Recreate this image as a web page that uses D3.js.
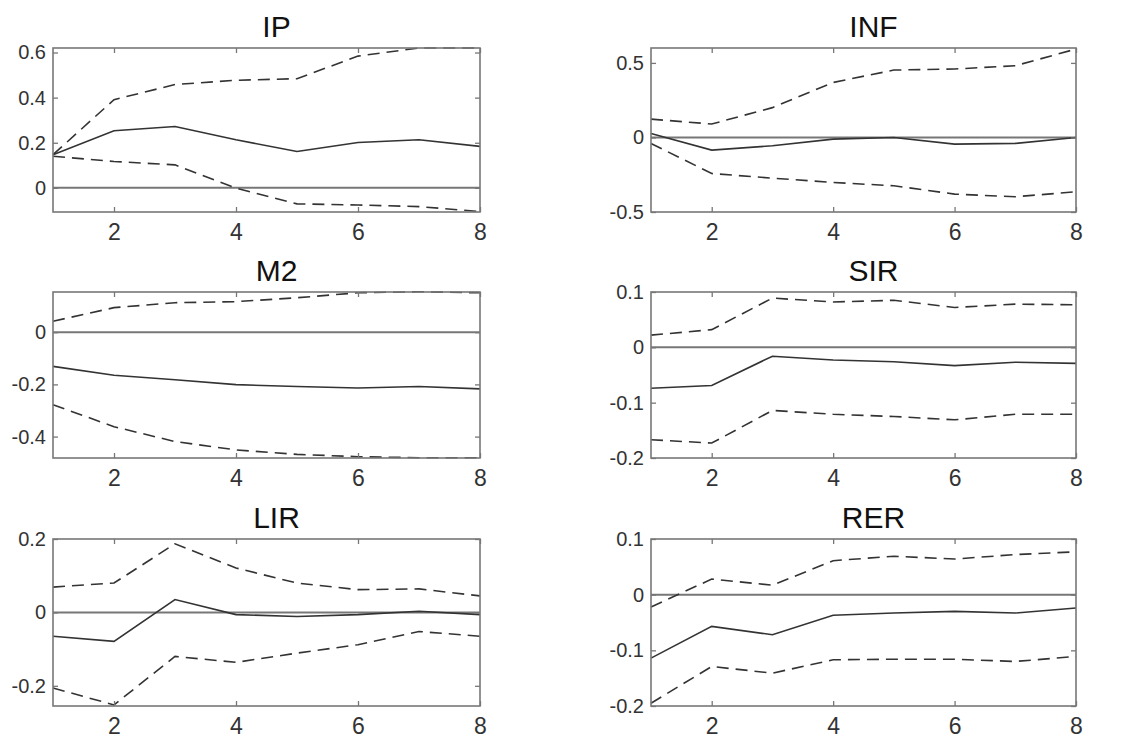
<!DOCTYPE html>
<html>
<head>
<meta charset="utf-8">
<script src="https://cdn.jsdelivr.net/npm/d3@7"></script>
<style>
  body { margin: 0; background: #fff; }
  text { font-family: "Liberation Sans", Arial, Helvetica, sans-serif; }
</style>
</head>
<body>
<script>
var width = 1121,
    height = 740;

// horizon (steps)
const steps = [1, 2, 3, 4, 5, 6, 7, 8];
const xTicks = [2, 4, 6, 8];

const titles = ['IP', 'INF', 'M2', 'SIR', 'LIR', 'RER'];

// impulse responses + bands
const ipResp  = [0.147, 0.253, 0.272, 0.213, 0.161, 0.201, 0.213, 0.184];
const ipUpper = [0.147, 0.391, 0.458, 0.477, 0.484, 0.584, 0.620, 0.620];
const ipLower = [0.140, 0.117, 0.102, -0.001, -0.071, -0.076, -0.083, -0.105];

const infResp  = [0.027, -0.085, -0.056, -0.011, 0.000, -0.045, -0.040, 0.000];
const infUpper = [0.123, 0.090, 0.200, 0.369, 0.452, 0.459, 0.481, 0.593];
const infLower = [-0.040, -0.242, -0.273, -0.302, -0.324, -0.380, -0.398, -0.364];

const m2Resp  = [-0.131, -0.165, -0.182, -0.201, -0.208, -0.214, -0.208, -0.217];
const m2Upper = [0.042, 0.094, 0.113, 0.117, 0.132, 0.151, 0.155, 0.151];
const m2Lower = [-0.278, -0.362, -0.419, -0.451, -0.468, -0.477, -0.481, -0.481];

const sirResp  = [-0.074, -0.069, -0.016, -0.023, -0.026, -0.033, -0.027, -0.029];
const sirUpper = [0.022, 0.032, 0.089, 0.082, 0.085, 0.072, 0.078, 0.077];
const sirLower = [-0.167, -0.173, -0.114, -0.121, -0.125, -0.131, -0.121, -0.121];

const lirResp  = [-0.065, -0.079, 0.035, -0.006, -0.011, -0.006, 0.003, -0.006];
const lirUpper = [0.069, 0.080, 0.187, 0.121, 0.080, 0.062, 0.064, 0.045];
const lirLower = [-0.206, -0.252, -0.120, -0.136, -0.111, -0.088, -0.052, -0.065];

const rerResp  = [-0.114, -0.057, -0.072, -0.037, -0.033, -0.030, -0.033, -0.024];
const rerUpper = [-0.022, 0.028, 0.017, 0.061, 0.069, 0.064, 0.072, 0.077];
const rerLower = [-0.195, -0.129, -0.141, -0.117, -0.116, -0.116, -0.120, -0.111];

const yDomains = [[-0.107, 0.62], [-0.5, 0.6], [-0.482, 0.154], [-0.2, 0.1], [-0.255, 0.2], [-0.2, 0.1]];
const yTicks = [[0, 0.2, 0.4, 0.6], [-0.5, 0, 0.5], [-0.4, -0.2, 0], [-0.2, -0.1, 0, 0.1], [-0.2, 0, 0.2], [-0.2, -0.1, 0, 0.1]];

const series = [
    [ipResp, ipUpper, ipLower],
    [infResp, infUpper, infLower],
    [m2Resp, m2Upper, m2Lower],
    [sirResp, sirUpper, sirLower],
    [lirResp, lirUpper, lirLower],
    [rerResp, rerUpper, rerLower]
];

// panel boxes
var cols = [[53, 480], [651, 1076]],
    rows = [[48, 212], [292, 458], [539, 706]];

var svg = d3.select('body')
    .append('svg')
    .attr('width', width)
    .attr('height', height);

svg.append('rect')
    .attr('width', width)
    .attr('height', height)
    .attr('fill', '#fff');

var fmt = d => d === 0 ? '0' : String(d);

titles.forEach((name, i) => {
    let c = cols[i % 2], r = rows[Math.floor(i / 2)];
    let x = d3.scaleLinear().domain([1, 8]).range(c);
    let y = d3.scaleLinear().domain(yDomains[i]).range([r[1], r[0]]);
    let g = svg.append('g');

    // zero line
    g.append('line')
        .attr('x1', x(1)).attr('x2', x(8))
        .attr('y1', y(0)).attr('y2', y(0))
        .attr('stroke', '#777')
        .attr('stroke-width', 2);

    let line = d3.line()
        .x((d, j) => x(steps[j]))
        .y(d => y(d));

    series[i].forEach((vals, k) => {
        g.append('path')
            .attr('d', line(vals))
            .attr('fill', 'none')
            .attr('stroke', '#333')
            .attr('stroke-width', 1.6)
            .attr('stroke-dasharray', k === 0 ? null : '12,7');
    });

    // axes, ticks inward
    let bottom = g.append('g')
        .attr('transform', `translate(0,${r[1]})`)
        .call(d3.axisBottom(x).tickValues(xTicks).tickFormat(d3.format('d')).tickSizeInner(-5).tickSizeOuter(0).tickPadding(12));
    let left = g.append('g')
        .attr('transform', `translate(${c[0]},0)`)
        .call(d3.axisLeft(y).tickValues(yTicks[i]).tickFormat(fmt).tickSizeInner(-5).tickSizeOuter(0).tickPadding(7));
    let top = g.append('g')
        .attr('transform', `translate(0,${r[0]})`)
        .call(d3.axisTop(x).tickValues(xTicks).tickFormat('').tickSizeInner(-5).tickSizeOuter(0));
    let right = g.append('g')
        .attr('transform', `translate(${c[1]},0)`)
        .call(d3.axisRight(y).tickValues(yTicks[i]).tickFormat('').tickSizeInner(-5).tickSizeOuter(0));

    [bottom, left, top, right].forEach(a => {
        a.select('.domain').remove();
        a.selectAll('.tick line').attr('stroke', '#777').attr('stroke-width', 1.3);
    });
    bottom.selectAll('text').attr('font-size', 23).attr('fill', '#333');
    left.selectAll('text').attr('font-size', 20).attr('fill', '#333');

    g.append('rect')
        .attr('x', c[0]).attr('y', r[0])
        .attr('width', c[1] - c[0]).attr('height', r[1] - r[0])
        .attr('fill', 'none')
        .attr('stroke', '#777')
        .attr('stroke-width', 1.6);

    g.append('text')
        .attr('x', (c[0] + c[1]) / 2 + 10)
        .attr('y', r[0] - 11)
        .attr('text-anchor', 'middle')
        .attr('font-size', 30)
        .attr('fill', '#111')
        .text(name);
});
</script>
</body>
</html>
